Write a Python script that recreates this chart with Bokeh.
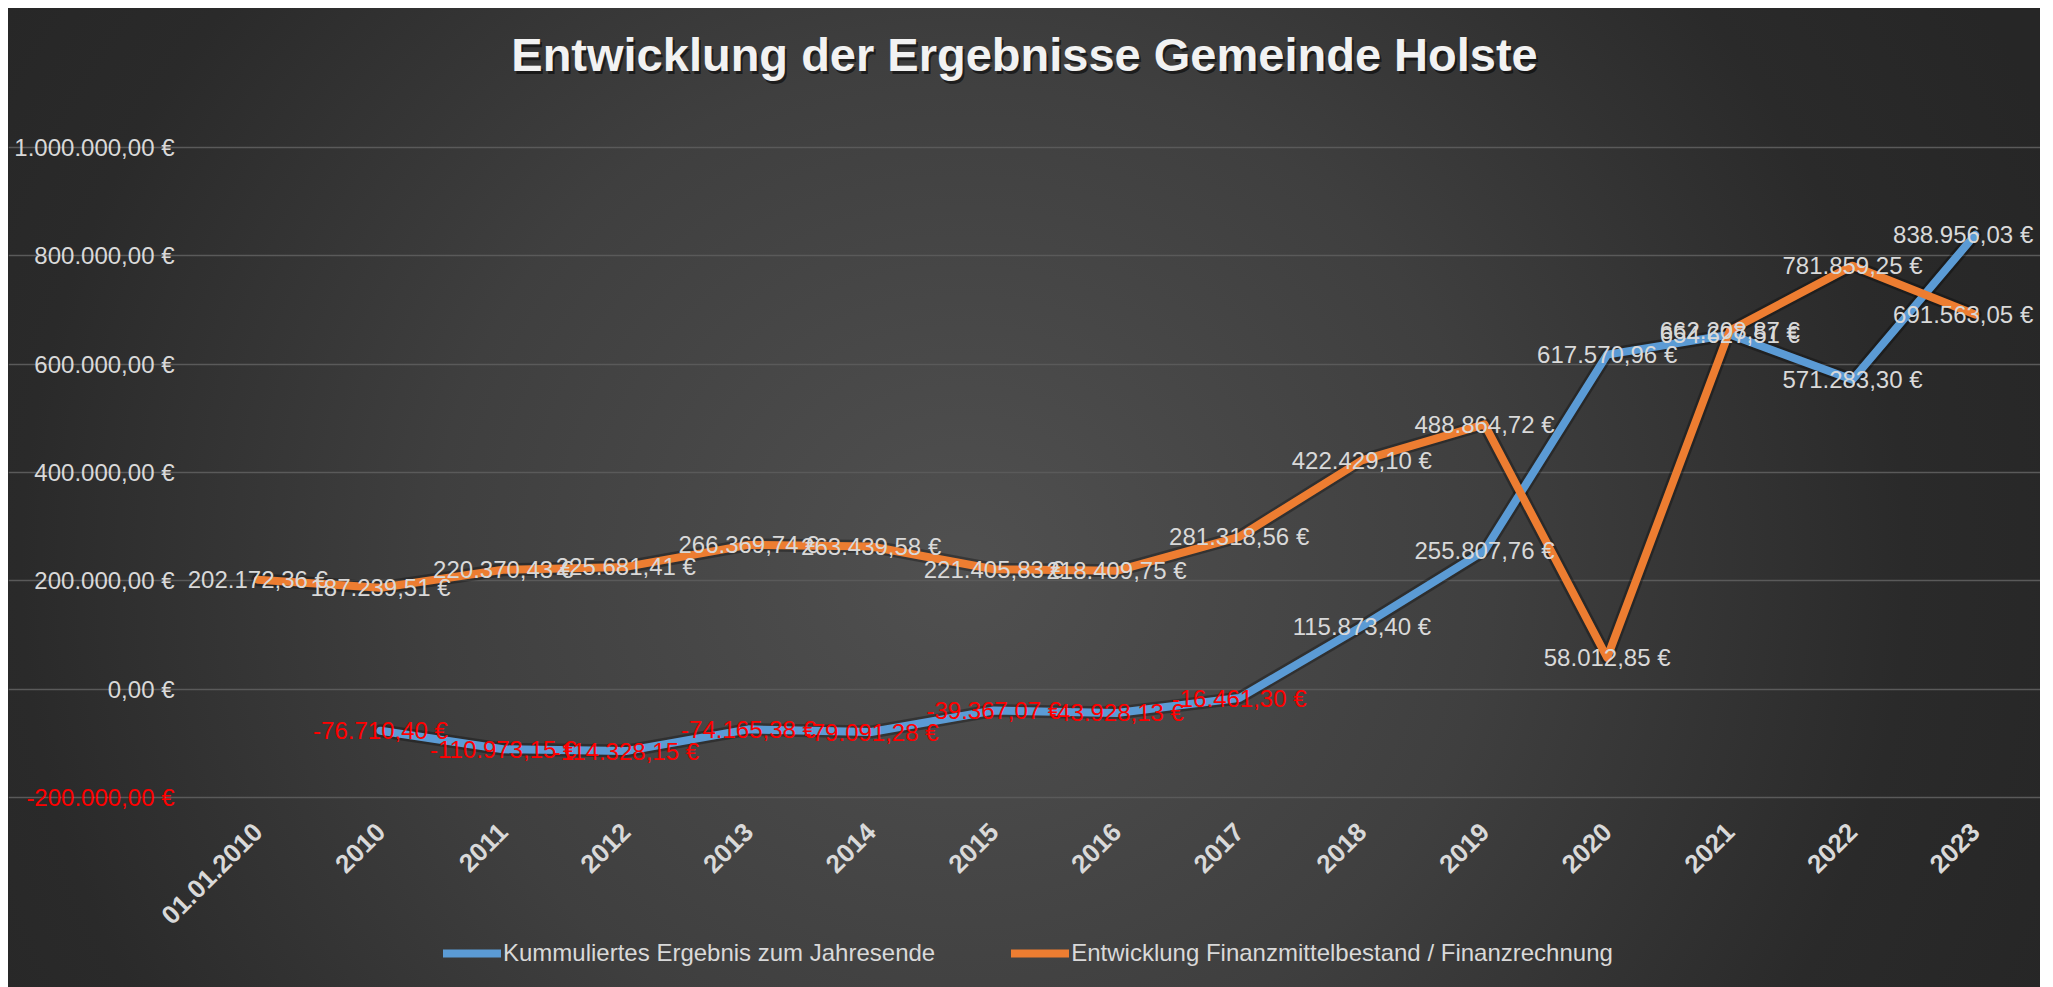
import math
from bokeh.plotting import figure
from bokeh.models import (ColumnDataSource, Range1d, FixedTicker, CustomJSTickFormatter,
                          LinearAxis, Grid, Label, Legend, LegendItem)
from bokeh.core.properties import value
from bokeh.embed import file_html
from bokeh.resources import INLINE

# ---------------- data ----------------
categories = ["01.01.2010", "2010", "2011", "2012", "2013", "2014", "2015", "2016",
              "2017", "2018", "2019", "2020", "2021", "2022", "2023"]
ergebnis_cats = categories[1:]
ergebnis = [-76710.40, -110973.15, -114328.15, -74165.38, -79091.28, -39367.07,
            -43928.13, -16461.30, 115873.40, 255807.76, 617570.96, 654627.51,
            571283.30, 838956.03]
finanz = [202172.36, 187239.51, 220370.43, 225681.41, 266369.74, 263439.58,
          221405.83, 218409.75, 281318.56, 422429.10, 488864.72, 58012.85,
          662208.87, 781859.25, 691563.05]
y_ticks = [-200000, 0, 200000, 400000, 600000, 800000, 1000000]
series_names = ["Kummuliertes Ergebnis zum Jahresende",
                "Entwicklung Finanzmittelbestand / Finanzrechnung"]
title_text = "Entwicklung der Ergebnisse Gemeinde Holste"

BLUE = "#5b9bd5"
ORANGE = "#ed7d31"
LIGHT = "#d9d9d9"
RED = "#ff0000"
FONT = "Liberation Sans"


def de_eur(v):
    s = f"{abs(v):,.2f}".replace(",", "X").replace(".", ",").replace("X", ".")
    return ("-" if v < 0 else "") + s + " €"


cat_index = {c: i for i, c in enumerate(categories)}
last = len(categories) - 1


def make_sources(cats, vals):
    xs = [cat_index[c] for c in cats]
    line = ColumnDataSource(dict(x=xs, y=vals))
    def lab(keep):
        pairs = [(x, v) for x, v in zip(xs, vals) if keep(x)]
        return ColumnDataSource(dict(
            x=[x for x, _ in pairs], y=[v for _, v in pairs],
            txt=[de_eur(v) for _, v in pairs],
            col=[RED if v < 0 else LIGHT for _, v in pairs]))
    return line, lab(lambda x: x != last), lab(lambda x: x == last)


src_e, lab_e_in, lab_e_edge = make_sources(ergebnis_cats, ergebnis)
src_f, lab_f_in, lab_f_edge = make_sources(categories, finanz)

# ---------------- layout (pixel geometry of the plot area) ----------------
W, H = 2032, 979
FL, FR, FT, FB = 188, 2028, 139, 789          # plot-area box inside the canvas
step = (FR - FL) / len(categories)
x0 = -0.5 - FL / step
x1 = len(categories) - 0.5 + (W - FR) / step
ypp = (y_ticks[-1] - y_ticks[0]) / (FB - FT)
y1 = y_ticks[-1] + FT * ypp
y0 = y_ticks[0] - (H - FB) * ypp

p = figure(width=W, height=H, x_range=Range1d(x0, x1), y_range=Range1d(y0, y1),
           output_backend="svg", toolbar_location=None, x_axis_type=None,
           y_axis_type=None, min_border=0)
p.margin = (8, 0, 0, 8)
p.background_fill_alpha = 0
p.border_fill_alpha = 0
p.outline_line_color = None
p.grid.visible = False
p.styles = {"background": "radial-gradient(ellipse 58% 115% at 47% 57%, #505050 0%, #3f3f3f 45%, #2a2a2a 80%, #262626 100%)"}

fmt_code = """
    let v = Math.abs(tick).toFixed(2).split(".");
    let i = v[0].replace(/\\B(?=(\\d{3})+(?!\\d))/g, ".");
    return (tick < 0 ? "-" : "") + i + "," + v[1] + " €";
"""

# horizontal grid lines, only across the category area
p.add_layout(Grid(dimension=1, ticker=FixedTicker(ticks=y_ticks),
                  bounds=(-0.5, x1), grid_line_color="#5a5a5a", grid_line_width=1.5))

def style_axis(ax, color, size="24px", bold=False):
    ax.axis_line_color = None
    ax.major_tick_line_color = None
    ax.minor_tick_line_color = None
    ax.major_label_text_font = FONT
    ax.major_label_text_font_size = size
    ax.major_label_text_color = color
    if bold:
        ax.major_label_text_font_style = "bold"

# y axis: non-negative ticks (light) and negative ticks (red)
ya = LinearAxis(fixed_location=-0.5, ticker=FixedTicker(ticks=[t for t in y_ticks if t >= 0]),
                formatter=CustomJSTickFormatter(code=fmt_code), major_label_standoff=16)
style_axis(ya, LIGHT)
p.add_layout(ya, "left")
yr = LinearAxis(fixed_location=-0.5, ticker=FixedTicker(ticks=[t for t in y_ticks if t < 0]),
                formatter=CustomJSTickFormatter(code=fmt_code), major_label_standoff=16)
style_axis(yr, RED)
p.add_layout(yr, "left")

# x axis with category labels
xa = LinearAxis(fixed_location=y_ticks[0], ticker=FixedTicker(ticks=list(range(len(categories)))),
                major_label_overrides={i: c for i, c in enumerate(categories)},
                major_label_orientation=math.pi / 4, major_label_standoff=24)
style_axis(xa, LIGHT, size="26px", bold=True)
p.add_layout(xa, "below")

# shadows
for src in (src_e, src_f):
    p.line("x", "y", source=src, line_color="black", line_alpha=0.3, line_width=13,
           line_join="round", line_cap="round")
# lines
r_e = p.line("x", "y", source=src_e, line_color=BLUE, line_width=8,
             line_join="round", line_cap="round")
r_f = p.line("x", "y", source=src_f, line_color=ORANGE, line_width=8,
             line_join="round", line_cap="round")

# data labels (centered on points; last ones nudged inside the chart)
for src in (lab_e_in, lab_f_in):
    p.text("x", "y", text="txt", source=src, text_color="col",
           text_align="center", text_baseline="middle",
           text_font=value(FONT), text_font_size="24px")
for src in (lab_e_edge, lab_f_edge):
    p.text("x", "y", text="txt", source=src, text_color="col",
           text_align="center", text_baseline="middle", x_offset=-12,
           text_font=value(FONT), text_font_size="24px")

# title (with soft shadow)
tx = (W / 2 - FL) / step - 0.5
ty = y_ticks[-1] + (FT - 46) * ypp
p.add_layout(Label(x=tx, y=ty, x_offset=2, y_offset=-3, text=title_text,
                   text_align="center", text_baseline="middle", text_font=FONT,
                   text_font_size="47px", text_font_style="bold",
                   text_color="black", text_alpha=0.55))
p.add_layout(Label(x=tx, y=ty, text=title_text, text_align="center",
                   text_baseline="middle", text_font=FONT, text_font_size="47px",
                   text_font_style="bold", text_color="#f2f2f2"))

# legend
legend = Legend(items=[LegendItem(label=series_names[0], renderers=[r_e]),
                       LegendItem(label=series_names[1], renderers=[r_f])],
                orientation="horizontal", location=(435, 20),
                spacing=76, padding=0, margin=0, glyph_width=58, glyph_height=24,
                label_height=24, label_standoff=2, background_fill_alpha=0,
                border_line_color=None, label_text_font=FONT,
                label_text_font_size="24px", label_text_color=LIGHT)
p.add_layout(legend)

open("out.html", "w").write(file_html(p, INLINE))
